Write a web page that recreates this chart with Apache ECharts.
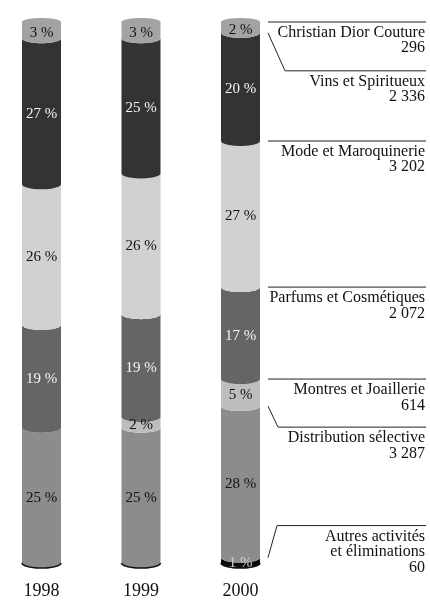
<!DOCTYPE html>
<html>
<head>
<meta charset="utf-8">
<script src="https://cdn.jsdelivr.net/npm/echarts@6/dist/echarts.min.js"></script>
<style>
html,body{margin:0;padding:0;background:#fff;}
#chart{width:430px;height:600px;}
</style>
</head>
<body>
<div id="chart"></div>
<script>
// ---- data ----
const years = ['1998', '1999', '2000'];
// segments listed from bottom of the bar to top
const segments = ['Autres activités\net éliminations', 'Distribution sélective', 'Montres et Joaillerie',
  'Parfums et Cosmétiques', 'Mode et Maroquinerie', 'Vins et Spiritueux', 'Christian Dior Couture'];
const share1998 = [0, 25, 0, 19, 26, 27, 3];
const share1999 = [0, 25, 2, 19, 26, 25, 3];
const share2000 = [1, 28, 5, 17, 27, 20, 2];
const sales2000 = [60, 3287, 614, 2072, 3202, 2336, 296];

// ---- styles ----
const segColors = ['#0b0b0b', '#8c8c8c', '#bdbdbd', '#656565', '#d1d1d1', '#333333', '#a3a3a3'];
const segTextColors = ['#cfcfcf', '#111', '#111', '#f4f4f4', '#111', '#f4f4f4', '#111'];
// annotation leader offsets (px) for 2000 labels
const leaderDy = [-32, 21, 0, 0, 0, 38, 0];
const leaderDx = [9, 10, 0, 0, 0, 17, 0];
const FONT = '"Liberation Serif", "DejaVu Serif", serif';

const allShares = [share1998, share1999, share2000];
const barData = [];
allShares.forEach((arr, xi) => {
  let acc = 0;
  const last = arr.reduce((m, v, i) => v > 0 ? i : m, -1);
  const first = arr.findIndex(v => v > 0);
  arr.forEach((v, si) => {
    if (v > 0) {
      barData.push([xi, acc, acc + v, si, v, si === last ? 1 : 0, si === first ? 1 : 0]);
    }
    acc += v;
  });
});
const annData = [];
{
  let acc = 0;
  share2000.forEach((v, si) => { acc += v; annData.push([2, acc, si]); });
}
function fmt(n) { return String(n).replace(/\B(?=(\d{3})+(?!\d))/g, ' '); }

const HALF_W = 19.5, RY = 5, N = 24;

function renderBar(params, api) {
  const xi = api.value(0), s = api.value(1), e = api.value(2), si = api.value(3);
  const pct = api.value(4), isTop = api.value(5), isBottom = api.value(6);
  const pA = api.coord([xi, s]), pB = api.coord([xi, e]);
  const cx = pA[0], yA = pA[1], yB = pB[1];
  const pts = [];
  pts.push([cx - HALF_W, yB]);
  for (let t = 0; t <= N; t++) {
    const a = Math.PI * t / N;
    pts.push([cx - HALF_W * Math.cos(a), yA + RY * Math.sin(a)]);
  }
  for (let t = 0; t <= N; t++) {
    const a = Math.PI * t / N;
    const dy = isTop ? -(RY - 1) * Math.sin(a) : RY * Math.sin(a);
    pts.push([cx + HALF_W * Math.cos(a), yB + dy]);
  }
  const children = [{
    type: 'polygon', shape: { points: pts }, z2: 1,
    style: { fill: segColors[si] }
  }];
  if (isBottom) {
    const arc = [];
    for (let t = 0; t <= N; t++) {
      const a = Math.PI * t / N;
      arc.push([cx - HALF_W * Math.cos(a), yA + RY * Math.sin(a)]);
    }
    children.push({ type: 'polyline', z2: 50, shape: { points: arc }, style: { stroke: '#111', lineWidth: 1.6, fill: null } });
  }
  children.push({
    type: 'text', z2: 100,
    style: {
      text: pct + ' %', x: cx, y: (yA + yB) / 2 + 2.5,
      align: 'center', verticalAlign: 'middle',
      fontSize: 15, fontFamily: FONT, fill: segTextColors[si]
    }
  });
  return { type: 'group', children };
}

function renderAnn(params, api) {
  const xi = api.value(0), top = api.value(1), si = api.value(2);
  const p = api.coord([xi, top]);
  const x0 = p[0] + HALF_W + 8, x1 = 426;
  const yAnchor = p[1];
  const dy = leaderDy[si], dx = leaderDx[si];
  const lineY = yAnchor + dy;
  const pts = dy !== 0 ? [[x0, yAnchor], [x0 + dx, lineY], [x1, lineY]] : [[x0, lineY], [x1, lineY]];
  return {
    type: 'group',
    children: [
      { type: 'polyline', shape: { points: pts }, style: { stroke: '#222', lineWidth: 1, fill: null } },
      {
        type: 'text',
        style: {
          text: segments[si] + '\n' + fmt(sales2000[si]),
          x: 425, y: lineY + 3, align: 'right', verticalAlign: 'top',
          fontSize: 16, lineHeight: 15.5, fontFamily: FONT, fill: '#111'
        }
      }
    ]
  };
}

const chart = echarts.init(document.getElementById('chart'), null, { renderer: 'canvas' });
chart.setOption({
  animation: false,
  backgroundColor: '#fff',
  grid: { left: 41.5, right: 189.5, top: 22, bottom: 30, containLabel: false },
  xAxis: {
    type: 'category', data: years, boundaryGap: false,
    axisLine: { show: false }, axisTick: { show: false }, splitLine: { show: false },
    axisLabel: { fontSize: 18, fontFamily: FONT, color: '#111', margin: 19 }
  },
  yAxis: { type: 'value', min: 0, max: 100, show: false },
  series: [
    { type: 'custom', renderItem: renderBar, data: barData, clip: false, encode: { x: 0, y: [1, 2] } },
    { type: 'custom', renderItem: renderAnn, data: annData, clip: false, encode: { x: 0, y: 1 } }
  ]
});
</script>
</body>
</html>
